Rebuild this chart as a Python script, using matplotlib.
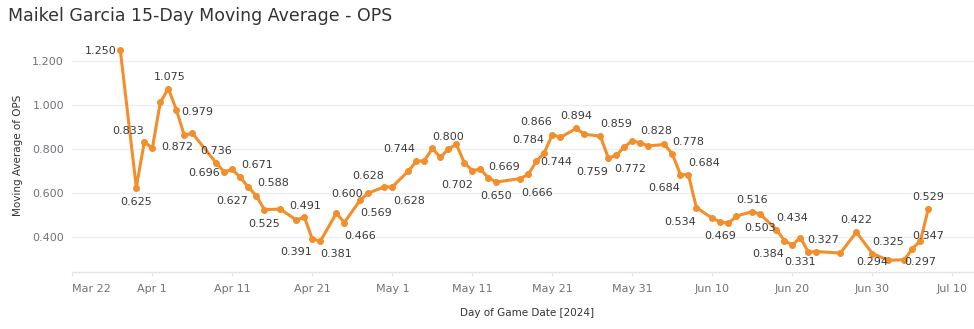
import matplotlib
matplotlib.use("Agg")
import matplotlib.pyplot as plt
import matplotlib.dates as mdates
import pandas as pd

# data
game_dates = [
    "2024-03-28", "2024-03-30", "2024-03-31", "2024-04-01", "2024-04-02", "2024-04-03",
    "2024-04-04", "2024-04-05", "2024-04-06", "2024-04-09", "2024-04-10", "2024-04-11",
    "2024-04-12", "2024-04-13", "2024-04-14", "2024-04-15", "2024-04-17", "2024-04-19",
    "2024-04-20", "2024-04-21", "2024-04-22", "2024-04-24", "2024-04-25", "2024-04-27",
    "2024-04-28", "2024-04-30", "2024-05-01", "2024-05-03", "2024-05-04", "2024-05-05",
    "2024-05-06", "2024-05-07", "2024-05-08", "2024-05-09", "2024-05-10", "2024-05-11",
    "2024-05-12", "2024-05-13", "2024-05-14", "2024-05-17", "2024-05-18", "2024-05-19",
    "2024-05-20", "2024-05-21", "2024-05-22", "2024-05-24", "2024-05-25", "2024-05-27",
    "2024-05-28", "2024-05-29", "2024-05-30", "2024-05-31", "2024-06-01", "2024-06-02",
    "2024-06-04", "2024-06-05", "2024-06-06", "2024-06-07", "2024-06-08", "2024-06-10",
    "2024-06-11", "2024-06-12", "2024-06-13", "2024-06-15", "2024-06-16", "2024-06-18",
    "2024-06-19", "2024-06-20", "2024-06-21", "2024-06-22", "2024-06-23", "2024-06-26",
    "2024-06-28", "2024-06-30", "2024-07-02", "2024-07-04", "2024-07-05", "2024-07-06",
    "2024-07-07",
]
ops_ma = [
    1.250, 0.625, 0.833, 0.803, 1.012, 1.075,
    0.979, 0.862, 0.872, 0.736, 0.696, 0.708,
    0.671, 0.627, 0.588, 0.525, 0.527, 0.477,
    0.491, 0.391, 0.381, 0.508, 0.466, 0.569,
    0.600, 0.628, 0.628, 0.700, 0.744, 0.747,
    0.803, 0.762, 0.800, 0.821, 0.738, 0.702,
    0.709, 0.669, 0.650, 0.666, 0.685, 0.744,
    0.784, 0.866, 0.853, 0.894, 0.867, 0.859,
    0.759, 0.772, 0.810, 0.838, 0.828, 0.814,
    0.821, 0.778, 0.684, 0.684, 0.534, 0.485,
    0.469, 0.462, 0.495, 0.516, 0.503, 0.434,
    0.384, 0.364, 0.397, 0.331, 0.334, 0.327,
    0.422, 0.325, 0.294, 0.297, 0.347, 0.383,
    0.529,
]
y_ticks = [0.4, 0.6, 0.8, 1.0, 1.2]
x_tick_dates = ["2024-03-22", "2024-04-01", "2024-04-11", "2024-04-21", "2024-05-01",
                "2024-05-11", "2024-05-21", "2024-05-31", "2024-06-10", "2024-06-20",
                "2024-06-30", "2024-07-10"]

# which points get a label, and where the label sits (pixel offset from point)
label_offsets = {
    "2024-03-28": (-20, -1), "2024-03-30": (0, -14), "2024-03-31": (-16, 11),
    "2024-04-03": (1, 12), "2024-04-04": (21, -2), "2024-04-06": (-15, -14),
    "2024-04-09": (0, 12), "2024-04-10": (-20, -1), "2024-04-12": (17, 12),
    "2024-04-13": (-16, -14), "2024-04-14": (17, 13), "2024-04-15": (0, -14),
    "2024-04-20": (1, 11), "2024-04-21": (-16, -13), "2024-04-22": (16, -13),
    "2024-04-25": (16, -13), "2024-04-27": (16, -13), "2024-04-28": (-21, -1),
    "2024-04-30": (-16, 11), "2024-05-01": (17, -14), "2024-05-04": (-17, 12),
    "2024-05-08": (0, 12), "2024-05-11": (-15, -14), "2024-05-13": (16, 11),
    "2024-05-14": (0, -14), "2024-05-17": (17, -14), "2024-05-19": (20, -1),
    "2024-05-20": (-16, 13), "2024-05-21": (-16, 13), "2024-05-24": (0, 12),
    "2024-05-27": (16, 12), "2024-05-28": (-16, -14), "2024-05-29": (14, -14),
    "2024-06-01": (16, 12), "2024-06-05": (16, 12), "2024-06-06": (-16, -13),
    "2024-06-07": (16, 12), "2024-06-08": (-16, -14), "2024-06-11": (0, -14),
    "2024-06-15": (0, 12), "2024-06-16": (0, -14), "2024-06-18": (16, 12),
    "2024-06-19": (-16, -13), "2024-06-22": (-8, -10), "2024-06-26": (-17, 13),
    "2024-06-28": (0, 12), "2024-06-30": (16, 12), "2024-07-02": (-16, -2),
    "2024-07-04": (16, -2), "2024-07-05": (16, 13), "2024-07-07": (0, 12),
}

df = pd.DataFrame({"date": pd.to_datetime(game_dates), "ops": ops_ma})

W, H = 974, 329
fig = plt.figure(figsize=(W / 100, H / 100), dpi=100)
left_px, right_px, top_px, bottom_px = 72.3, 974, 38, 272
ax = fig.add_axes([left_px / W, (H - bottom_px) / H,
                   (right_px - left_px) / W, (bottom_px - top_px) / H])

orange = "#F28E2B"
ax.plot(df["date"], df["ops"], color=orange, lw=2.2, marker="o", ms=4.0,
        solid_joinstyle="round", zorder=3)

for d, v in zip(df["date"], df["ops"]):
    key = d.strftime("%Y-%m-%d")
    if key in label_offsets:
        dx, dy = label_offsets[key]
        ax.annotate(f"{v:.3f}", (d, v), xytext=(dx, dy), textcoords="offset pixels",
                    ha="center", va="center", fontsize=8, color="#3a3a3a", zorder=4)

# axes styling
start = pd.Timestamp("2024-03-22")
ax.set_xlim(mdates.date2num(start), mdates.date2num(start + pd.Timedelta(days=112.7)))
ax.set_ylim(0.241, 1.305)

xt = pd.to_datetime(x_tick_dates)
ax.set_xticks(xt)
ax.set_xticklabels([f"{d.strftime('%b')} {d.day}" for d in xt])
ax.get_xticklabels()[0].set_horizontalalignment("left")
ax.set_yticks(y_ticks)
ax.set_yticklabels([f"{t:.3f}" for t in y_ticks])

ax.tick_params(axis="x", length=3, width=0.8, color="#e4e4e4", pad=6,
               labelsize=8, labelcolor="#6f7378")
ax.tick_params(axis="y", length=0, pad=6, labelsize=8, labelcolor="#6f7378")

ax.grid(axis="y", color="#ededed", lw=0.9)
ax.grid(axis="x", visible=False)
ax.set_axisbelow(True)
for s in ["top", "right", "left"]:
    ax.spines[s].set_visible(False)
ax.spines["bottom"].set_color("#e4e4e4")
ax.spines["bottom"].set_linewidth(0.9)

# titles
fig.text(8 / W, 1 - 16 / H, "Maikel Garcia 15-Day Moving Average - OPS",
         ha="left", va="center", fontsize=12.5, color="#333333")
fig.text(527 / W, 1 - 313 / H, "Day of Game Date [2024]", ha="center", va="center",
         fontsize=7.5, color="#333333")
fig.text(18 / W, 1 - 155 / H, "Moving Average of OPS", ha="center", va="center",
         rotation=90, fontsize=7.5, color="#333333")

fig.savefig("out.png", dpi=100)
